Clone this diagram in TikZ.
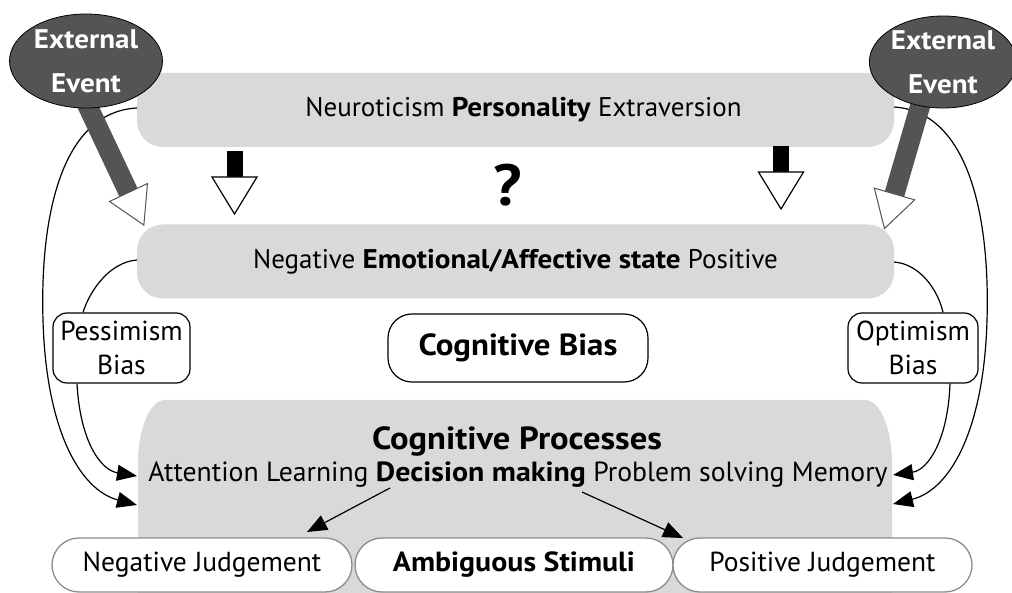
\documentclass[tikz,border=0pt]{standalone}
\usepackage{fontspec}
\setmainfont{PT Sans}[BoldFeatures={FakeStretch=1.08}]
\usetikzlibrary{arrows.meta,shapes.geometric,shapes.misc,calc}

\definecolor{bandgray}{gray}{0.85}
\definecolor{eventgray}{gray}{0.33}
\definecolor{ovalgray}{gray}{0.55}

% font size with baseline skip
\newcommand{\txt}[2]{\fontsize{#1}{#2}\selectfont}

\begin{document}
\begin{tikzpicture}[x=1pt,y=-1pt,
  band/.style={fill=bandgray, draw=none, rounded corners=26pt, inner sep=0pt,
    minimum width=757pt, minimum height=74pt, font=\txt{27}{34}},
  event/.style={ellipse, fill=eventgray, draw=black, line width=0.8pt, text=white,
    font=\bfseries\txt{26.9}{44}, align=center, inner sep=0pt,
    minimum width=153pt, minimum height=94pt},
  biasbox/.style={draw=black, line width=1.2pt, fill=white, rounded corners=14pt,
    align=center, inner sep=0pt, minimum height=70pt, font=\txt{27.5}{34}},
  judge/.style={rounded rectangle, draw=ovalgray, line width=1.3pt, fill=white,
    inner sep=0pt, minimum height=54pt, font=\txt{27.5}{34}},
  link/.style={-{Triangle[length=20pt,width=16pt]}, line width=1.2pt},
  shaft/.style={draw=eventgray, line width=20pt},
  openhead/.style={draw=eventgray, fill=white, line width=1pt, line join=miter},
  downhead/.style={draw=black, fill=white, line width=1.2pt}
]
\useasboundingbox (0,0) rectangle (1012,593);

% ---- grey bands ----
\node[band] (pers) at (515.5,110) {\hspace*{16pt}Neuroticism \textbf{Personality} Extraversion};
\node[band] (emo)  at (515.5,261.5) {Negative \textbf{Emotional/Affective state} Positive};

% cognitive processes panel, tall corners
\fill[bandgray] (138,593) -- (138,463)
  arc[start angle=180, end angle=270, x radius=27, y radius=63]
  -- (865,400)
  arc[start angle=270, end angle=360, x radius=27, y radius=63]
  -- (892,593) -- cycle;
\node[font=\bfseries\txt{32}{36}] (cpt) at (517,441) {Cognitive Processes};
\node[font=\txt{27.7}{34}] (cpl) at (518,475)
  {Attention Learning \textbf{Decision making} Problem solving Memory};

% ---- down arrows between the bands ----
\coordinate (dl) at (234.5,177);
\coordinate (dr) at (781,172);
\foreach \c in {dl,dr}{
  \fill ($(\c)+(-8,-26)$) rectangle ($(\c)+(8,0)$);
  \draw[downhead] ($(\c)+(-22.5,0)$) -- ($(\c)+(22.5,0)$) -- ($(\c)+(0,37)$) -- cycle;
}
\node[font=\bfseries\txt{58}{60}] (qm) at (508,185) {?};

% ---- bias boxes ----
\node[biasbox, minimum width=137pt] (pess) at (121.5,348) {Pessimism\\Bias};
\node[biasbox, minimum width=130pt] (opt)  at (913,348) {Optimism\\Bias};
\node[biasbox, rounded corners=24pt, minimum width=260pt, minimum height=68pt,
  font=\bfseries\txt{30.5}{34}] (cb) at (518,348) {Cognitive Bias};

% ---- curved links ----
\coordinate (po1) at (137,108);
\coordinate (po2) at (894,107);
\coordinate (eo1) at (137,260);
\coordinate (eo2) at (894,262);
\coordinate (ti1) at (137,476);
\coordinate (to1) at (137,505);
\coordinate (ti2) at (893,475);
\coordinate (to2) at (893,504);

\draw[link] (po1) .. controls (60,112) and (40,220) .. (43,320)
  .. controls (46,430) and (80,490) .. (to1);
\draw[line width=1.2pt] (eo1) .. controls (110,262) and (90,290) .. (pess.north west -| 83,0);
\draw[link] (pess.south west -| 77,0) .. controls (80,440) and (100,470) .. (ti1);

\draw[link] (po2) .. controls (970,112) and (990,220) .. (987,320)
  .. controls (984,430) and (950,490) .. (to2);
\draw[line width=1.2pt] (eo2) .. controls (920,264) and (938,290) .. (opt.north west -| 943,0);
\draw[link] (opt.south west -| 950,0) .. controls (948,440) and (928,470) .. (ti2);

% ---- external events with thick arrows ----
\coordinate (t1) at (83,96);
\coordinate (h1) at (128.5,192.5);
\coordinate (t2) at (923,96);
\coordinate (h2) at (894.5,194);
\draw[shaft] (t1) -- (h1);
\draw[shaft] (t2) -- (h2);
\draw[openhead] ($(h1)!21pt!90:(t1)$) -- ($(h1)!-36pt!(t1)$) -- ($(h1)!21pt!-90:(t1)$) -- cycle;
\draw[openhead] ($(h2)!21pt!90:(t2)$) -- ($(h2)!-36pt!(t2)$) -- ($(h2)!21pt!-90:(t2)$) -- cycle;
\node[event] (ev1) at (86,61) {External\\Event};
\node[event, minimum width=145pt, minimum height=92pt] (ev2) at (943,62) {External\\Event};

% ---- judgements ----
\node[judge, minimum width=300pt] (neg) at (202,565) {Negative Judgement};
\node[judge, minimum width=318pt, font=\bfseries\txt{27.7}{34}] (amb) at (514,565) {Ambiguous Stimuli};
\node[judge, minimum width=299pt] (pos) at (822.5,565) {Positive Judgement};

\coordinate (dm1) at (390,488);
\coordinate (dm2) at (582,492);
\draw[link] (dm1) -- (307,532);
\draw[link] (dm2) -- (683,538);
\end{tikzpicture}
\end{document}
